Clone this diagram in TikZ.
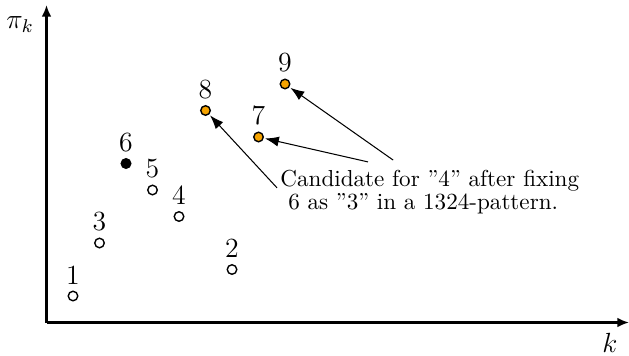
\documentclass[tikz,border=0pt]{standalone}
\usetikzlibrary{arrows.meta}
\definecolor{candorange}{RGB}{245,163,0}
\begin{document}
\begin{tikzpicture}[x=0.403cm,y=0.403cm,
  dot/.style={circle,draw=black,line width=0.6pt,inner sep=0pt,minimum size=0.36*0.403cm,
     label={[font=\large,label distance=-0.8pt]above:#1}},
  opendot/.style={dot=#1,fill=white},
  blackdot/.style={dot=#1,fill=black},
  canddot/.style={dot=#1,fill=candorange},
  axis/.style={line width=0.9pt,-{Latex[length=5pt,width=4.2pt]}},
  pointer/.style={line width=0.45pt,-{Latex[length=6pt,width=4.4pt]},shorten >=0.5pt}]
\useasboundingbox (-1.755,-1.226) rectangle (21.98,12.17);
\coordinate (O) at (0,0);
\coordinate (xend) at (21.98,0);
\coordinate (yend) at (0,11.98);
\draw[axis] (O) -- (xend);
\draw[axis] (O) -- (yend);
\node[font=\large] (ylab) at (-1.0,11.26) {$\pi_k$};
\node[font=\large] (xlab) at (21.26,-0.76) {$k$};
\node[opendot=1] (p1) at (1,1) {};
\node[opendot=3] (p3) at (2,3) {};
\node[blackdot=6] (p6) at (3,6) {};
\node[opendot=5] (p5) at (4,5) {};
\node[opendot=4] (p4) at (5,4) {};
\node[canddot=8] (p8) at (6,8) {};
\node[opendot=2] (p2) at (7,2) {};
\node[canddot=7] (p7) at (8,7) {};
\node[canddot=9] (p9) at (9,9) {};
\node[anchor=north west,inner sep=0pt,align=left] (cap) at (8.81,5.75)
  {Candidate for "4" after fixing\\[-2pt]\hspace{3.4pt}6 as "3" in a 1324-pattern.};
\coordinate (a8) at (8.70,5.08);
\coordinate (a7) at (12.13,6.06);
\coordinate (a9) at (13.08,6.13);
\draw[pointer] (a8) -- (p8);
\draw[pointer] (a7) -- (p7);
\draw[pointer] (a9) -- (p9);
\end{tikzpicture}
\end{document}
